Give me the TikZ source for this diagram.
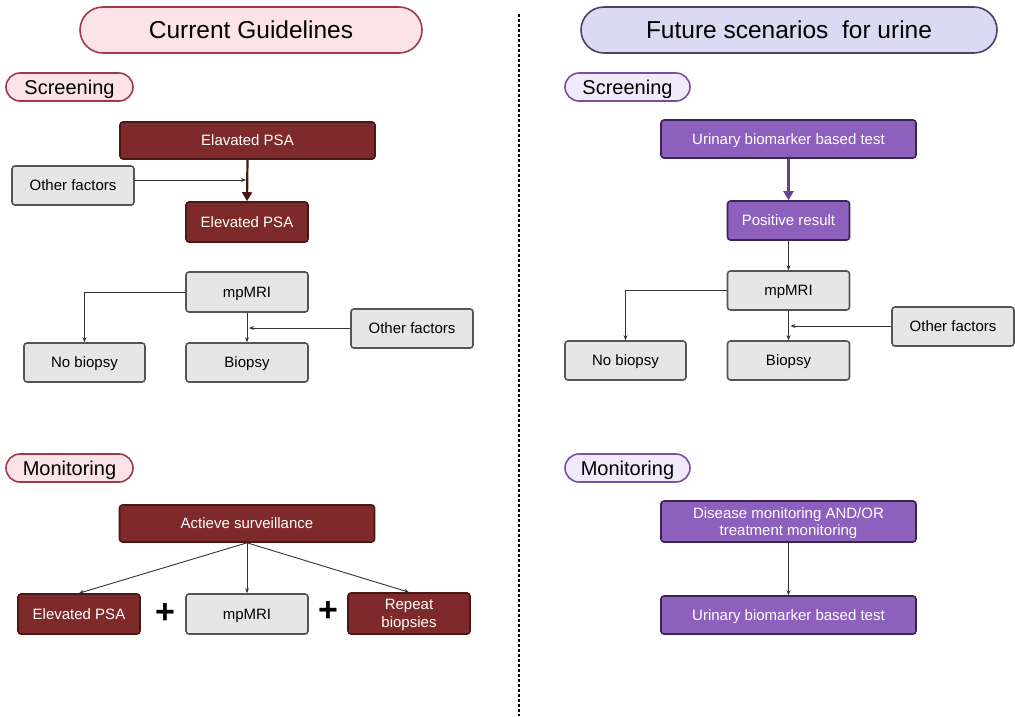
\documentclass[tikz,border=0pt]{standalone}
\usepackage{fontspec}
\setmainfont{Liberation Sans}
\usetikzlibrary{arrows.meta}
\definecolor{redfill}{HTML}{7F2A2A}
\definecolor{redline}{HTML}{4A1616}
\definecolor{grayfill}{HTML}{E6E6E6}
\definecolor{grayline}{HTML}{555555}
\definecolor{purpfill}{HTML}{8E60BD}
\definecolor{purpline}{HTML}{3A2650}
\definecolor{pinkpill}{HTML}{FBE3E8}
\definecolor{pinkedge}{HTML}{A03A4A}
\definecolor{lavpill}{HTML}{DCDAF2}
\definecolor{lavedge}{HTML}{4B3F6E}
\definecolor{lilacpill}{HTML}{F0EAFA}
\definecolor{lilacedge}{HTML}{7B4FA0}
\definecolor{wire}{HTML}{333333}
\tikzset{
  box/.style={rectangle, rounded corners=3pt, line width=1.6pt, inner sep=0pt,
    align=center, font=\fontsize{15}{17.5}\selectfont, text height=10.8pt, text depth=0pt},
  twolines/.style={text height={}, text depth=-2pt},
  redbox/.style={box, fill=redfill, draw=redline, text=white},
  graybox/.style={box, fill=grayfill, draw=grayline, text=black},
  purpbox/.style={box, fill=purpfill, draw=purpline, text=white},
  titlepill/.style={rectangle, rounded corners=23pt, line width=1.6pt, inner sep=0pt,
    minimum height=46pt, font=\fontsize{24.5}{28}\selectfont, text height=17.6pt, text depth=0pt},
  secpill/.style={rectangle, rounded corners=14pt, line width=1.6pt, inner sep=0pt,
    minimum height=28pt, minimum width=127pt, font=\fontsize{20}{22}\selectfont,
    text height=14.4pt, text depth=0pt},
  thin/.style={draw=wire, line width=0.9pt, -{Stealth[length=5pt,width=4pt]}},
  thickred/.style={draw=redline, line width=2.2pt, -{Triangle[length=9pt,width=10pt]}},
  thickpurp/.style={draw=lilacedge!85!black, line width=2.2pt, -{Triangle[length=9pt,width=10pt]}},
  plus/.style={font=\fontsize{34}{34}\selectfont\bfseries, inner sep=0pt},
}
\begin{document}
\begin{tikzpicture}[x=1pt,y=-1pt]
\useasboundingbox (0,0) rectangle (1015,716);

% divider between the two columns
\draw[black, line width=1.6pt, dash pattern=on 2.5pt off 2.5pt] (519,14) -- (519,716);

% ---------- left column: current guidelines ----------
\node[titlepill, fill=pinkpill, draw=pinkedge, minimum width=342pt] (tL) at (251,30) {Current Guidelines};
\node[secpill, fill=pinkpill, draw=pinkedge] (sL) at (69.5,87) {Screening};
\node[secpill, fill=pinkpill, draw=pinkedge] (mL) at (69.5,468) {Monitoring};

\node[redbox, minimum width=255pt, minimum height=37pt] (psa1) at (247.5,140.5) {Elavated PSA};
\node[graybox, minimum width=122pt, minimum height=39pt] (ofL1) at (73,185.5) {Other factors};
\node[redbox, minimum width=122pt, minimum height=40pt] (psa2) at (247,222) {Elevated PSA};
\node[graybox, minimum width=122pt, minimum height=40pt] (mriL) at (247,292) {mpMRI};
\node[graybox, minimum width=121pt, minimum height=39pt] (nbL) at (84.5,362.5) {No biopsy};
\node[graybox, minimum width=122pt, minimum height=39pt] (bL) at (247,362.5) {Biopsy};
\node[graybox, minimum width=122pt, minimum height=39pt] (ofL2) at (412,328.5) {Other factors};

\draw[thickred] (psa1.south) -- (psa2.north);
\coordinate (jL1) at (246,180);
\draw[thin] (ofL1.east |- jL1) -- (jL1);
\draw[thin] (mriL.south) -- (bL.north);
\draw[thin] (mriL.west) -| (nbL.north);
\coordinate (jL2) at (249,328);
\draw[thin] (ofL2.west |- jL2) -- (jL2);

\node[redbox, minimum width=255pt, minimum height=37pt] (asv) at (247,523.5) {Actieve surveillance};
\node[redbox, minimum width=122pt, minimum height=40pt] (psa3) at (79,614) {Elevated PSA};
\node[graybox, minimum width=122pt, minimum height=40pt] (mriL2) at (247,614) {mpMRI};
\node[redbox, twolines, minimum width=122pt, minimum height=41pt] (rb) at (409,613.5) {Repeat\\biopsies};
\node[plus] (p1) at (165,614) {+};
\node[plus] (p2) at (328,612) {+};

\draw[thin] (asv.south) -- (psa3.north);
\draw[thin] (asv.south) -- (mriL2.north);
\draw[thin] (asv.south) -- (rb.north);

% ---------- right column: future scenarios ----------
\node[titlepill, fill=lavpill, draw=lavedge, minimum width=416pt] (tR) at (789,30) {Future scenarios~ for urine};
\node[secpill, fill=lilacpill, draw=lilacedge, minimum width=125pt] (sR) at (627.5,87) {Screening};
\node[secpill, fill=lilacpill, draw=lilacedge, minimum width=125pt] (mR) at (627.5,468) {Monitoring};

\node[purpbox, minimum width=255pt, minimum height=38pt] (ubt1) at (788.5,139) {Urinary biomarker based test};
\node[purpbox, minimum width=122pt, minimum height=39pt] (pos) at (788.5,220.5) {Positive result};
\node[graybox, minimum width=122pt, minimum height=39pt] (mriR) at (788.5,290.5) {mpMRI};
\node[graybox, minimum width=121pt, minimum height=39pt] (nbR) at (625.5,360.5) {No biopsy};
\node[graybox, minimum width=122pt, minimum height=39pt] (bR) at (788.5,360.5) {Biopsy};
\node[graybox, minimum width=122pt, minimum height=39pt] (ofR) at (953,326.5) {Other factors};

\draw[thickpurp] (ubt1.south) -- (pos.north);
\draw[thin] (pos.south) -- (mriR.north);
\draw[thin] (mriR.south) -- (bR.north);
\draw[thin] (mriR.west) -| (nbR.north);
\coordinate (jR) at (790.5,326);
\draw[thin] (ofR.west |- jR) -- (jR);

\node[purpbox, twolines, minimum width=255pt, minimum height=41pt] (dm) at (788.5,521.5) {Disease monitoring AND/OR\\treatment monitoring};
\node[purpbox, minimum width=255pt, minimum height=38pt] (ubt2) at (788.5,615) {Urinary biomarker based test};
\draw[thin] (dm.south) -- (ubt2.north);
\end{tikzpicture}
\end{document}
